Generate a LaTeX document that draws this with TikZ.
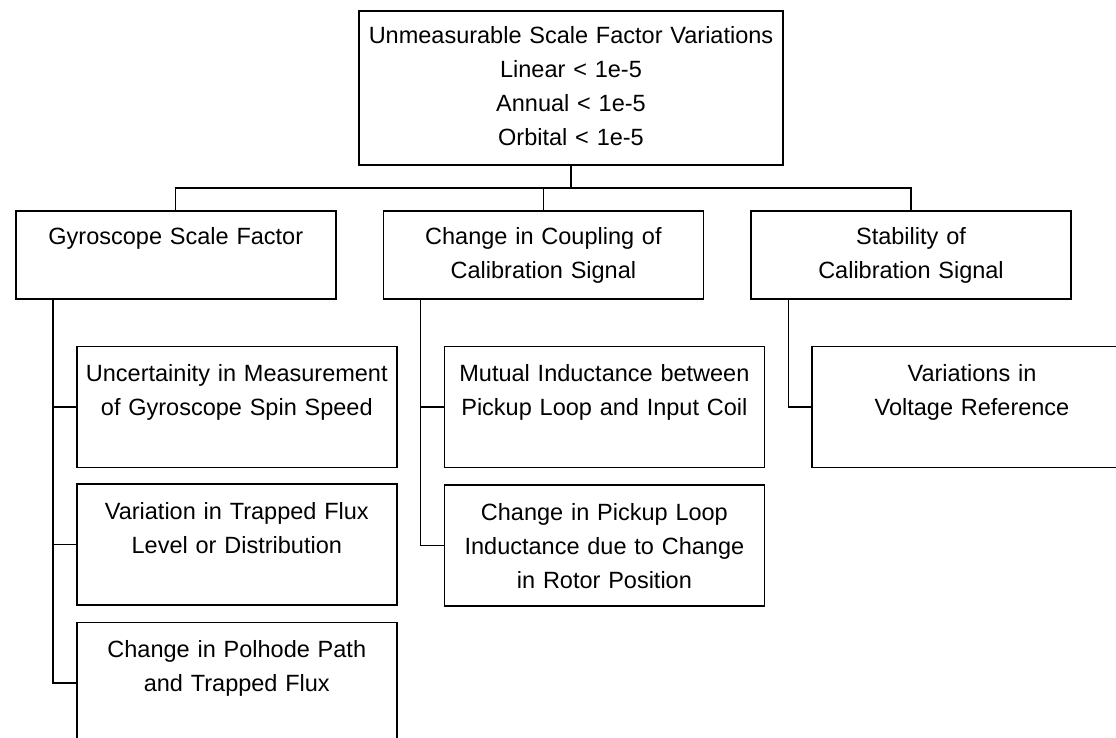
\documentclass[tikz,border=0pt]{standalone}
\usepackage{fontspec}
\setmainfont{Liberation Sans}
\usetikzlibrary{positioning}

\begin{document}
\begin{tikzpicture}[x=1pt,y=-1pt,
   box/.style={draw,line width=1.6pt,inner sep=0pt,align=center,text width=320pt,
     font=\fontsize{23.5}{34}\selectfont},
   head/.style={box,text width=424pt,text height=33pt,text depth=121pt},
   cause/.style={box,text height=34pt,text depth=54pt},
   leaf/.style={box,text height=35pt,text depth=86pt},
   link/.style={line width=1.3pt},
   node distance=46pt]
 \path[use as bounding box] (0,0) rectangle (1116,737);
 \clip (0,0) rectangle (1116,737);
 % top level
 \node[head,anchor=north] (top) at (571,10)
   {Unmeasurable Scale Factor Variations\\Linear < 1e-5\\Annual < 1e-5\\Orbital < 1e-5};
 % second level
 \node[cause,anchor=north west] (g) at (15,210) {Gyroscope Scale Factor};
 \node[cause,right=of g] (c) {Change in Coupling of\\Calibration Signal};
 \node[cause,right=of c] (s) {Stability of\\Calibration Signal};
 % leaves
 \node[leaf,below=of g.south west,anchor=north west,xshift=61pt] (g1)
   {Uncertainity in Measurement\\of Gyroscope Spin Speed};
 \node[leaf,below=15pt of g1] (g2) {Variation in Trapped Flux\\Level or Distribution};
 \node[leaf,below=16pt of g2] (g3) {Change in Polhode Path\\and Trapped Flux};
 \node[leaf,below=of c.south west,anchor=north west,xshift=61pt] (c1)
   {Mutual Inductance between\\Pickup Loop and Input Coil};
 \node[leaf,below=16pt of c1] (c2)
   {Change in Pickup Loop\\Inductance due to Change\\in Rotor Position};
 \node[leaf,below=of s.south west,anchor=north west,xshift=61pt] (s1)
   {Variations in\\Voltage Reference};
 % connectors
 \coordinate (bus) at (0,188);
 \draw[link] (top.south) -- (top.south |- bus);
 \draw[link] (g.north) |- (bus -| s.north) -- (s.north);
 \draw[link] (c.north) -- (c.north |- bus);
 \foreach \p/\k in {g/1,g/2,g/3,c/1,c/2,s/1}
   \draw[link] ([xshift=38pt]\p.south west) |- (\p\k.west);
\end{tikzpicture}
\end{document}
